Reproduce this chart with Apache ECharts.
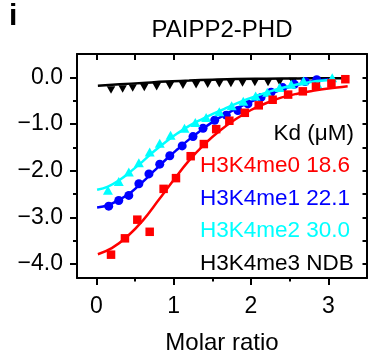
<!DOCTYPE html>
<html>
<head>
<meta charset="utf-8">
<script src="https://cdn.jsdelivr.net/npm/echarts@6/dist/echarts.min.js"></script>
<style>html,body{margin:0;padding:0;background:#fff}#c{width:385px;height:360px}</style>
</head>
<body>
<div id="c"></div>
<script>
// ---- data ----
const xTickLabels = [0, 1, 2, 3];
const xMinorTicks = [0.5, 1.5, 2.5];
const yTickLabels = [0, -1, -2, -3, -4];
const yMinorTicks = [-0.5, -1.5, -2.5, -3.5];

const me0_pts = [[0.19,-3.80],[0.37,-3.45],[0.53,-3.05],[0.69,-3.31],[0.87,-2.39],[1.03,-2.16],[1.22,-1.69],[1.39,-1.43],[1.55,-1.11],[1.72,-0.93],[1.92,-0.76],[2.10,-0.60],[2.28,-0.48],[2.48,-0.37],[2.67,-0.30],[2.84,-0.20],[3.04,-0.13],[3.22,-0.04]];
const me0_fit = [[0.02,-3.79],[0.2,-3.66],[0.4,-3.41],[0.6,-3.07],[0.8,-2.64],[1.0,-2.2],[1.2,-1.78],[1.4,-1.43],[1.6,-1.14],[1.8,-0.9],[2.0,-0.7],[2.2,-0.55],[2.4,-0.43],[2.6,-0.35],[2.8,-0.29],[3.0,-0.24],[3.25,-0.19]];

const me1_pts = [[0.16,-2.76],[0.29,-2.64],[0.42,-2.53],[0.55,-2.28],[0.68,-2.07],[0.82,-1.86],[0.95,-1.68],[1.11,-1.47],[1.25,-1.27],[1.38,-1.09],[1.53,-0.92],[1.68,-0.81],[1.83,-0.71],[1.96,-0.57],[2.13,-0.43],[2.26,-0.32],[2.41,-0.22],[2.56,-0.15],[2.70,-0.09],[2.85,-0.05]];
const me1_fit = [[0.01,-2.79],[0.15,-2.74],[0.3,-2.62],[0.45,-2.46],[0.6,-2.24],[0.75,-2.0],[0.9,-1.76],[1.05,-1.54],[1.2,-1.33],[1.35,-1.14],[1.5,-0.96],[1.65,-0.81],[1.8,-0.68],[1.95,-0.56],[2.1,-0.45],[2.25,-0.35],[2.4,-0.26],[2.55,-0.18],[2.7,-0.12],[2.85,-0.07],[3.0,-0.04]];

const me2_pts = [[0.15,-2.42],[0.29,-2.23],[0.42,-2.03],[0.55,-1.83],[0.69,-1.60],[0.82,-1.41],[0.96,-1.24],[1.14,-1.09],[1.28,-0.97],[1.42,-0.86],[1.59,-0.74],[1.75,-0.61],[1.90,-0.51],[2.06,-0.40],[2.21,-0.32],[2.37,-0.22],[2.52,-0.15],[2.68,-0.08],[2.86,-0.15],[3.05,-0.01]];
const me2_fit = [[0.01,-2.41],[0.15,-2.34],[0.3,-2.2],[0.45,-2.01],[0.6,-1.8],[0.75,-1.58],[0.9,-1.38],[1.05,-1.2],[1.2,-1.04],[1.35,-0.91],[1.5,-0.79],[1.65,-0.68],[1.8,-0.57],[1.95,-0.47],[2.1,-0.38],[2.25,-0.3],[2.4,-0.23],[2.55,-0.17],[2.7,-0.12],[2.85,-0.08],[3.05,-0.05]];

const me3_pts = [[0.19,-0.27],[0.34,-0.25],[0.47,-0.23],[0.62,-0.22],[0.78,-0.20],[0.95,-0.18],[1.12,-0.17],[1.29,-0.16],[1.44,-0.15],[1.59,-0.14],[1.74,-0.13],[1.89,-0.12],[2.05,-0.11],[2.22,-0.11],[2.37,-0.10],[2.54,-0.09],[2.69,-0.09],[2.86,-0.08],[3.04,-0.08]];
const me3_fit = [[0.02,-0.18],[0.3,-0.15],[0.6,-0.12],[0.9,-0.09],[1.2,-0.07],[1.5,-0.05],[1.8,-0.035],[2.2,-0.03],[2.6,-0.025],[3.0,-0.02],[3.2,-0.02]];

const legendLines = [
  {text: 'H3K4me0 18.6', color: '#ff0000'},
  {text: 'H3K4me1 22.1', color: '#0000ff'},
  {text: 'H3K4me2 30.0', color: '#00ffff'},
  {text: 'H3K4me3 NDB', color: '#000000'}
];

const FONT = "'Liberation Sans', Arial, Helvetica, sans-serif";
const chart = echarts.init(document.getElementById('c'), null, {renderer: 'canvas'});

const gridBox = {left: 77, right: 18, top: 54, bottom: 78};
const baseX = {type: 'value', min: -0.25, max: 3.5, gridIndex: 0, splitLine: {show: false}};
const baseY = {type: 'value', min: -4.3, max: 0.5, gridIndex: 0, splitLine: {show: false}};
const lineStyleAxis = {color: '#000', width: 2};

function fitSeries(data, color, z) {
  return {type: 'line', data: data, smooth: 0.4, showSymbol: false, symbol: 'none',
    lineStyle: {color: color, width: 2.5}, z: z, silent: true, animation: false};
}
function ptSeries(data, color, symbol, size, rot, z) {
  return {type: 'scatter', data: data, symbol: symbol, symbolSize: size, symbolRotate: rot || 0,
    itemStyle: {color: color, opacity: 1}, z: z, silent: true, animation: false};
}

const option = {
  animation: false,
  backgroundColor: '#fff',
  grid: gridBox,
  xAxis: [
    Object.assign({}, baseX, {
      position: 'bottom',
      name: 'Molar ratio', nameLocation: 'middle', nameGap: 53,
      nameTextStyle: {fontFamily: FONT, fontSize: 24, color: '#000'},
      axisLine: {show: true, onZero: false, lineStyle: lineStyleAxis},
      axisTick: {show: true, inside: false, length: 7, customValues: xTickLabels, lineStyle: {color: '#000', width: 2}},
      axisLabel: {show: true, customValues: xTickLabels, margin: 17, fontFamily: FONT, fontSize: 23, color: '#000'}
    }),
    Object.assign({}, baseX, {
      position: 'bottom',
      axisLine: {show: false, onZero: false},
      axisTick: {show: true, inside: false, length: 3.5, customValues: xMinorTicks, lineStyle: {color: '#000', width: 2}},
      axisLabel: {show: false}
    }),
    Object.assign({}, baseX, {
      position: 'top',
      axisLine: {show: true, onZero: false, lineStyle: lineStyleAxis},
      axisTick: {show: true, inside: true, length: 6, customValues: xTickLabels.concat(xMinorTicks), lineStyle: {color: '#000', width: 2}},
      axisLabel: {show: false}
    })
  ],
  yAxis: [
    Object.assign({}, baseY, {
      position: 'left',
      axisLine: {show: true, onZero: false, lineStyle: lineStyleAxis},
      axisTick: {show: true, inside: false, length: 7, customValues: yTickLabels, lineStyle: {color: '#000', width: 2}},
      axisLabel: {show: true, customValues: yTickLabels, margin: 14, fontFamily: FONT, fontSize: 23, color: '#000',
        formatter: function (v) { return (v < 0 ? '\u2212' : '') + Math.abs(v).toFixed(1); }}
    }),
    Object.assign({}, baseY, {
      position: 'left',
      axisLine: {show: false, onZero: false},
      axisTick: {show: true, inside: false, length: 4, customValues: yMinorTicks, lineStyle: {color: '#000', width: 2}},
      axisLabel: {show: false}
    }),
    Object.assign({}, baseY, {
      position: 'right',
      axisLine: {show: true, onZero: false, lineStyle: lineStyleAxis},
      axisTick: {show: true, inside: true, length: 4.5, customValues: yTickLabels.concat(yMinorTicks), lineStyle: {color: '#000', width: 2}},
      axisLabel: {show: false}
    })
  ],
  series: [
    fitSeries(me3_fit, '#000000', 2),
    ptSeries(me3_pts, '#000000', 'triangle', [8.5, 7.5], 180, 3),
    fitSeries(me1_fit, '#0000ff', 4),
    ptSeries(me1_pts, '#0000ff', 'circle', 9, 0, 5),
    fitSeries(me2_fit, '#00ffff', 6),
    ptSeries(me2_pts, '#00ffff', 'triangle', [10, 9], 0, 7),
    fitSeries(me0_fit, '#ff0000', 8),
    ptSeries(me0_pts, '#ff0000', 'rect', 8.5, 0, 9)
  ],
  graphic: [
    {type: 'text', left: 9, top: 2, style: {text: 'i', fontFamily: FONT, fontSize: 30, fontWeight: 'bold', fill: '#000'}},
    {type: 'text', x: 222, y: 30, style: {text: 'PAIPP2-PHD', fontFamily: FONT, fontSize: 24, fill: '#000', align: 'center', verticalAlign: 'middle'}},
    {type: 'text', x: 354, y: 134, z: 20, style: {text: 'Kd (\u03bcM)', fontFamily: FONT, fontSize: 22.5, fill: '#000', align: 'right', verticalAlign: 'middle'}}
  ].concat(legendLines.map(function (l, i) {
    return {type: 'text', x: 200, y: 165.5 + i * 32.8, z: 20,
      style: {text: l.text, fontFamily: FONT, fontSize: 22.5, fill: l.color, align: 'left', verticalAlign: 'middle'}};
  }))
};
chart.setOption(option);
</script>
</body>
</html>
